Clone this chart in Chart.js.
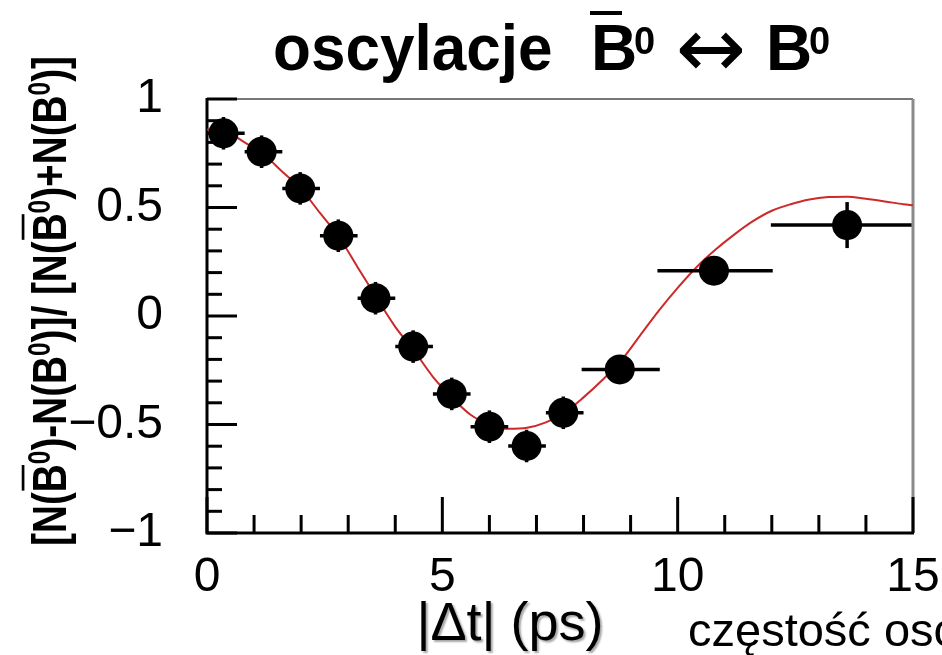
<!DOCTYPE html>
<html><head><meta charset="utf-8">
<script src="https://cdn.jsdelivr.net/npm/chart.js@4.4.1/dist/chart.umd.min.js"></script>
<style>html,body{margin:0;padding:0;background:#fff;overflow:hidden}#wrap{width:942px;height:655px}</style>
</head><body><div id="wrap"><canvas id="c" width="942" height="655"></canvas></div>
<script>
// ---- data ----
const pointT  = [0.35, 1.16, 1.98, 2.79, 3.58, 4.38, 5.20, 6.00, 6.79, 7.57, 8.77, 10.77, 13.60];
const pointA  = [0.842, 0.757, 0.588, 0.370, 0.082, -0.141, -0.359, -0.510, -0.599, -0.446, -0.246, 0.209, 0.419];
const binLow  = [0.0, 0.8, 1.6, 2.4, 3.2, 4.0, 4.8, 5.6, 6.4, 7.2, 7.96, 9.57, 11.98];
const binHigh = [0.8, 1.6, 2.4, 3.2, 4.0, 4.8, 5.6, 6.4, 7.2, 8.0, 9.62, 12.02, 14.97];
const errA    = [0.075, 0.075, 0.075, 0.075, 0.075, 0.075, 0.075, 0.075, 0.075, 0.075, 0.06, 0.06, 0.106];

const fitT = [0, 0.4, 0.8, 1.2, 1.6, 2.0, 2.4, 2.8, 3.2, 3.6, 4.0, 4.4, 4.8, 5.2, 5.6, 6.0, 6.4, 6.8, 7.2, 7.6, 8.0, 8.4, 8.8, 9.2, 9.6, 10.0, 10.4, 10.8, 11.2, 11.6, 12.0, 12.4, 12.8, 13.2, 13.6, 14.0, 14.4, 14.8, 15.0];
const fitA = [0.86, 0.85, 0.80, 0.745, 0.665, 0.585, 0.475, 0.365, 0.225, 0.085, -0.05, -0.16, -0.28, -0.375, -0.455, -0.50, -0.52, -0.515, -0.49, -0.445, -0.375, -0.295, -0.205, -0.09, 0.025, 0.13, 0.225, 0.305, 0.375, 0.437, 0.485, 0.515, 0.537, 0.548, 0.55, 0.54, 0.528, 0.515, 0.51];

const xTickValues = [0,1,2,3,4,5,6,7,8,9,10,11,12,13,14,15];
const xMajorTicks = [0,5,10,15];
const yTickValues = [-1,-0.9,-0.8,-0.7,-0.6,-0.5,-0.4,-0.3,-0.2,-0.1,0,0.1,0.2,0.3,0.4,0.5,0.6,0.7,0.8,0.9,1];
const yMajorTicks = [-1,-0.5,0,0.5,1];

const titleText = 'oscylacje';
const xTitle = '|Δt| (ps)';
const noteText = 'częstość osc';

const FONT = "'Liberation Sans', Arial, Helvetica, sans-serif";

function isMajor(list, v){ return list.some(m => Math.abs(m - v) < 1e-9); }

const framePlugin = {
  id: 'frame',
  beforeDatasetsDraw(chart){
    const {ctx, chartArea:a, scales:{x, y}} = chart;
    ctx.save();
    ctx.strokeStyle = '#777'; ctx.lineWidth = 2;
    ctx.beginPath(); ctx.moveTo(a.left, a.top); ctx.lineTo(a.right, a.top); ctx.stroke();
    ctx.strokeStyle = '#8a8a8a'; ctx.lineWidth = 3;
    ctx.beginPath(); ctx.moveTo(a.right, a.top); ctx.lineTo(a.right, a.bottom); ctx.stroke();
    ctx.strokeStyle = '#000'; ctx.lineWidth = 3;
    xTickValues.forEach(v => {
      const px = x.getPixelForValue(v);
      const len = isMajor(xMajorTicks, v) ? 36 : 18;
      ctx.beginPath(); ctx.moveTo(px, a.bottom); ctx.lineTo(px, a.bottom - len); ctx.stroke();
    });
    yTickValues.forEach(v => {
      const py = y.getPixelForValue(v);
      const len = isMajor(yMajorTicks, v) ? 30 : 15;
      ctx.beginPath(); ctx.moveTo(a.left, py); ctx.lineTo(a.left + len, py); ctx.stroke();
    });
    ctx.lineWidth = 3;
    ctx.beginPath(); ctx.moveTo(a.left, a.top - 1); ctx.lineTo(a.left, a.bottom); ctx.lineTo(a.right + 1, a.bottom); ctx.stroke();
    ctx.restore();
  }
};

const errorPlugin = {
  id: 'errbars',
  afterDatasetsDraw(chart){
    const {ctx, scales:{x, y}} = chart;
    ctx.save();
    ctx.strokeStyle = '#000'; ctx.lineWidth = 3.5; ctx.lineCap = 'butt';
    pointT.forEach((t, i) => {
      const py = y.getPixelForValue(pointA[i]);
      const px = x.getPixelForValue(t);
      ctx.beginPath(); ctx.moveTo(x.getPixelForValue(binLow[i]), py); ctx.lineTo(x.getPixelForValue(binHigh[i]), py); ctx.stroke();
      ctx.beginPath(); ctx.moveTo(px, y.getPixelForValue(pointA[i] - errA[i])); ctx.lineTo(px, y.getPixelForValue(pointA[i] + errA[i])); ctx.stroke();
    });
    ctx.restore();
  }
};

function drawRuns(ctx, runs, x0, base, size, supSize, supRaise, barGap){
  let x = x0;
  runs.forEach(r => {
    const fs = r.sup ? supSize : size;
    ctx.font = 'bold ' + fs + 'px ' + FONT;
    const w = ctx.measureText(r.t).width;
    const yb = r.sup ? base - supRaise : base;
    ctx.fillText(r.t, x, yb);
    if (r.bar) {
      ctx.fillRect(x + size*0.04, base - size*0.72 - barGap, w - size*0.06, Math.max(2, size*0.055));
    }
    x += w;
  });
  return x;
}
function runsWidth(ctx, runs, size, supSize){
  let w = 0;
  runs.forEach(r => { ctx.font = 'bold ' + (r.sup ? supSize : size) + 'px ' + FONT; w += ctx.measureText(r.t).width; });
  return w;
}

const textPlugin = {
  id: 'texts',
  afterDraw(chart){
    const ctx = chart.ctx;
    ctx.save();
    ctx.fillStyle = '#000';
    ctx.textBaseline = 'alphabetic';
    ctx.textAlign = 'left';
    // main title
    ctx.font = 'bold 64px ' + FONT;
    ctx.save();
    ctx.translate(273, 70); ctx.scale(0.97, 1);
    ctx.fillText(titleText, 0, 0);
    ctx.restore();
    ctx.font = 'bold 64px ' + FONT;
    ctx.fillText('B', 591, 70);
    ctx.fillRect(590, 11, 32, 4);
    ctx.font = 'bold 38px ' + FONT;
    ctx.fillText('0', 634, 54);
    ctx.font = "84px 'DejaVu Sans', sans-serif";
    ctx.textAlign = 'center';
    ctx.textBaseline = 'middle';
    ctx.fillText('↔', 711, 55);
    ctx.textBaseline = 'alphabetic';
    ctx.textAlign = 'left';
    ctx.font = 'bold 64px ' + FONT;
    ctx.fillText('B', 766, 70);
    ctx.font = 'bold 38px ' + FONT;
    ctx.fillText('0', 809, 54);

    // y title (rotated)
    const yRuns = [
      {t:'[N('}, {t:'B', bar:true}, {t:'0', sup:true}, {t:')-N(B'}, {t:'0', sup:true}, {t:')]/ [N('},
      {t:'B', bar:true}, {t:'0', sup:true}, {t:')+N(B'}, {t:'0', sup:true}, {t:')]'}
    ];
    const ys = 49, yss = 31;
    ctx.save();
    ctx.translate(46, 301);
    ctx.rotate(-Math.PI/2);
    ctx.scale(0.79, 1);
    const tw = runsWidth(ctx, yRuns, ys, yss);
    drawRuns(ctx, yRuns, -tw/2, 20, ys, yss, 16, 9);
    ctx.restore();

    // x title with soft shadow
    ctx.save();
    ctx.font = '54px ' + FONT;
    ctx.textAlign = 'center';
    ctx.shadowColor = 'rgba(0,0,0,0.35)';
    ctx.shadowOffsetX = 2; ctx.shadowOffsetY = 2; ctx.shadowBlur = 2;
    ctx.fillText(xTitle, 510, 640);
    ctx.restore();

    // note at bottom right
    ctx.font = '47px ' + FONT;
    ctx.textAlign = 'left';
    ctx.fillText(noteText, 688, 646);
    ctx.restore();
  }
};

new Chart(document.getElementById('c'), {
  type: 'scatter',
  data: {
    datasets: [
      {
        label: 'dane',
        data: pointT.map((t, i) => ({x: t, y: pointA[i]})),
        pointRadius: 15, pointHoverRadius: 15,
        backgroundColor: '#000', borderColor: '#000', borderWidth: 0,
        order: 0
      },
      {
        label: 'dopasowanie',
        data: fitT.map((t, i) => ({x: t, y: fitA[i]})),
        showLine: true, borderColor: '#cc2a2a', borderWidth: 2,
        pointRadius: 0, pointHoverRadius: 0, fill: false,
        cubicInterpolationMode: 'monotone',
        order: 1
      }
    ]
  },
  options: {
    responsive: false, animation: false, events: [],
    layout: {padding: {top: 99, right: 29, left: 0, bottom: 0}},
    plugins: {legend: {display: false}, tooltip: {enabled: false}, title: {display: false}},
    scales: {
      x: {
        type: 'linear', min: 0, max: 15,
        grid: {display: false, drawTicks: false}, border: {display: false},
        ticks: {
          stepSize: 5, autoSkip: false, maxRotation: 0, padding: 16, color: '#000',
          font: {family: FONT, size: 48},
          callback: v => isMajor(xMajorTicks, v) ? String(v) : ''
        },
        afterFit: s => { s.height = 122; s.paddingLeft = 0; s.paddingRight = 0; }
      },
      y: {
        type: 'linear', min: -1, max: 1,
        grid: {display: false, drawTicks: false}, border: {display: false},
        ticks: {
          stepSize: 0.5, autoSkip: false, padding: 44, color: '#000',
          font: {family: FONT, size: 48},
          callback: v => v < 0 ? '\u2212' + Math.abs(v) : String(v)
        },
        afterFit: s => { s.width = 207; s.paddingTop = 0; s.paddingBottom = 0; }
      }
    }
  },
  plugins: [framePlugin, errorPlugin, textPlugin]
});
</script>
</body></html>
